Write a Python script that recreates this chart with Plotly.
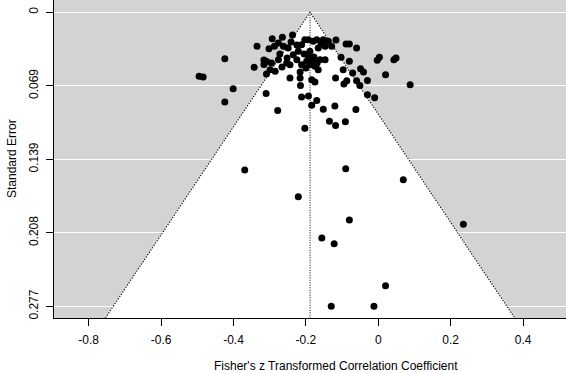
import plotly.graph_objects as go

# Fisher's z effects and their standard errors
effect = [-0.495, -0.484, -0.424, -0.401, -0.424, -0.369, -0.335, -0.343, -0.310, -0.278,
          -0.316, -0.308, -0.316, -0.309, -0.302, -0.293, -0.265, -0.276, -0.287, -0.262,
          -0.241, -0.249, -0.295, -0.276, -0.272, -0.299, -0.285, -0.253, -0.244, -0.225,
          -0.235, -0.221, -0.212, -0.203, -0.237, -0.244, -0.216, -0.215, -0.212, -0.193,
          -0.184, -0.170, -0.152, -0.120, -0.135, -0.118, -0.203, -0.091, -0.062, -0.051,
          -0.030, -0.010, -0.095, -0.030, 0.088, -0.193, -0.180, -0.170, -0.152, -0.138,
          -0.147, -0.129, -0.166, -0.189, -0.193, -0.184, -0.198, -0.189, -0.175, -0.161,
          -0.147, -0.212, -0.166, -0.184, -0.175, -0.118, -0.103, -0.089, -0.080, -0.060,
          -0.080, 0.003, -0.003, 0.043, 0.049, -0.097, -0.071, -0.049, -0.041, 0.020,
          -0.087, -0.060, -0.090, 0.069, -0.221, -0.080, 0.235, -0.156, -0.122, 0.020,
          -0.130, -0.012, -0.205, -0.178, -0.200, -0.169, -0.225, -0.158, -0.252, -0.266,
          -0.117, -0.216]
std_err = [0.0604, 0.0610, 0.0439, 0.0722, 0.0846, 0.1488, 0.0320, 0.0519, 0.0766, 0.0926,
           0.0450, 0.0464, 0.0492, 0.0582, 0.0343, 0.0249, 0.0236, 0.0290, 0.0321, 0.0321,
           0.0280, 0.0337, 0.0478, 0.0447, 0.0393, 0.0542, 0.0557, 0.0478, 0.0494, 0.0447,
           0.0400, 0.0368, 0.0306, 0.0258, 0.0214, 0.0620, 0.0620, 0.0691, 0.0799, 0.0790,
           0.0877, 0.0832, 0.0915, 0.0884, 0.1028, 0.1068, 0.1094, 0.1033, 0.0917, 0.0691,
           0.0778, 0.0806, 0.0676, 0.0643, 0.0683, 0.0258, 0.0274, 0.0258, 0.0258, 0.0274,
           0.0321, 0.0321, 0.0337, 0.0368, 0.0415, 0.0447, 0.0462, 0.0494, 0.0509, 0.0447,
           0.0447, 0.0494, 0.0542, 0.0636, 0.0658, 0.0621, 0.0424, 0.0299, 0.0299, 0.0337,
           0.0462, 0.0425, 0.0453, 0.0447, 0.0431, 0.0542, 0.0573, 0.0532, 0.0563, 0.0589,
           0.0645, 0.0645, 0.1475, 0.1579, 0.1740, 0.1959, 0.2000, 0.2129, 0.2183, 0.2579,
           0.2774, 0.2774, 0.0393, 0.0422, 0.0525, 0.0478, 0.0308, 0.0299, 0.0431, 0.0516,
           0.0261, 0.0563]

center = -0.1885
y_ticks = [0, 0.06935, 0.1387, 0.20805, 0.2774]
y_tick_text = ["0", "0.069", "0.139", "0.208", "0.277"]
x_ticks = [-0.8, -0.6, -0.4, -0.2, 0, 0.2, 0.4]
x_tick_text = ["-0.8", "-0.6", "-0.4", "-0.2", "0", "0.2", "0.4"]

x_range = [-0.8959, 0.5185]
y_range = [0.2884, -0.0116]
y_bottom = y_range[0]

fig = go.Figure()

# white funnel region
fig.add_trace(go.Scatter(
    x=[center - 1.96 * y_bottom, center, center + 1.96 * y_bottom],
    y=[y_bottom, 0, y_bottom],
    mode="lines", fill="toself", fillcolor="white",
    line=dict(color="black", width=1.1, dash="1.2px,1.6px"),
    hoverinfo="skip", showlegend=False))

# center line
fig.add_trace(go.Scatter(
    x=[center, center], y=[0, y_bottom], mode="lines",
    line=dict(color="black", width=1, dash="1px,1.5px"),
    hoverinfo="skip", showlegend=False))

# studies
fig.add_trace(go.Scatter(
    x=effect, y=std_err, mode="markers",
    marker=dict(color="black", size=7, line=dict(width=0)),
    showlegend=False))

font = dict(family="Liberation Sans, Arial, sans-serif", size=12, color="#000000")

fig.update_layout(
    width=566, height=373,
    margin=dict(l=54, r=0, t=0, b=55, autoexpand=False),
    paper_bgcolor="white", plot_bgcolor="#D3D3D3",
    font=font,
    xaxis=dict(range=x_range, tickvals=x_ticks, ticktext=x_tick_text, automargin=False,
               showgrid=False, zeroline=False, showline=True, linecolor="black",
               linewidth=1, ticks="outside", ticklen=7, tickcolor="black",
               ticklabelstandoff=4),
    yaxis=dict(range=y_range, tickvals=y_ticks, ticktext=y_tick_text, automargin=False,
               showgrid=True, gridcolor="white", gridwidth=1, zeroline=False,
               showline=True, linecolor="black", linewidth=1, ticks="outside",
               ticklen=7, tickcolor="black", tickangle=-90, ticklabelstandoff=3),
    annotations=[
        dict(text="Fisher's z Transformed Correlation Coefficient", xref="paper", yref="paper",
             x=0.551, y=-0.152, xanchor="center", yanchor="middle", showarrow=False, font=font),
        dict(text="Standard Error", xref="paper", yref="paper", x=-0.082, y=0.5,
             xanchor="center", yanchor="middle", textangle=-90, showarrow=False, font=font),
    ],
)

fig.write_html("out.html", config={"displayModeBar": False},
               post_script="document.body.style.margin='0';document.body.style.overflow='hidden';")
